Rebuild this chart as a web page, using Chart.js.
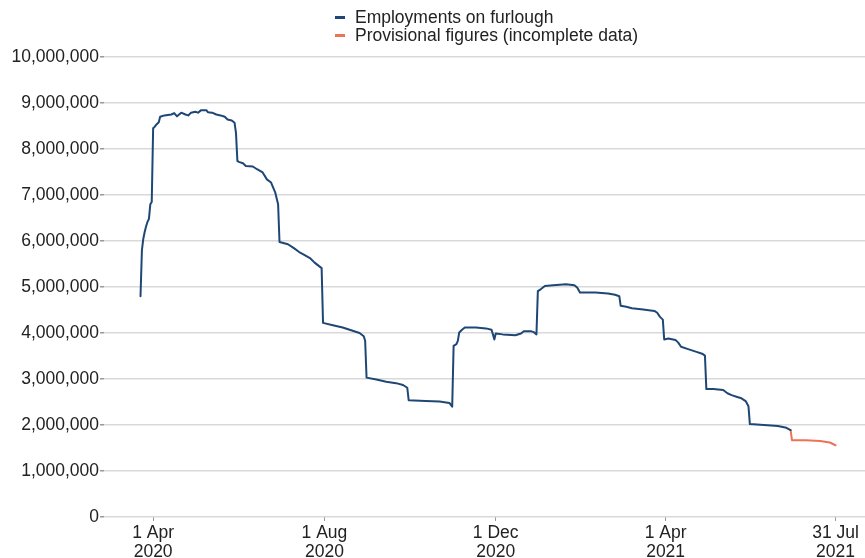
<!DOCTYPE html>
<html>
<head>
<meta charset="utf-8">
<script src="https://cdn.jsdelivr.net/npm/chart.js@4.4.1/dist/chart.umd.min.js"></script>
<style>
  html, body { margin: 0; padding: 0; background: #ffffff; }
  #wrap { position: relative; width: 865px; height: 558px; }
  #legend { position: absolute; left: 335px; top: 8px; font-family: "Liberation Sans", Arial, sans-serif; font-size: 17.5px; color: #222; line-height: 18px; }
  .item { display: flex; align-items: center; white-space: nowrap; }
  .swatch { width: 10px; height: 3px; margin-right: 10px; }
</style>
</head>
<body>
<div id="wrap">
  <canvas id="c" width="865" height="558"></canvas>
  <div id="legend"></div>
</div>
<script>
const seriesLabels = ["Employments on furlough", "Provisional figures (incomplete data)"];
const seriesColors = ["#1e4776", "#ec7356"];

const furloughDates = [
  "2020-03-23","2020-03-24","2020-03-25","2020-03-26","2020-03-27","2020-03-28","2020-03-29","2020-03-30","2020-03-31",
  "2020-04-01","2020-04-02","2020-04-03","2020-04-05","2020-04-06","2020-04-09","2020-04-14","2020-04-16","2020-04-18",
  "2020-04-21","2020-04-24","2020-04-26","2020-04-28","2020-05-01","2020-05-03","2020-05-05","2020-05-09","2020-05-10",
  "2020-05-13","2020-05-16","2020-05-19","2020-05-22","2020-05-24","2020-05-27","2020-05-29","2020-05-30","2020-05-31",
  "2020-06-01","2020-06-04","2020-06-06","2020-06-11","2020-06-14","2020-06-18","2020-06-21","2020-06-24","2020-06-27",
  "2020-06-29","2020-06-30","2020-07-06","2020-07-10","2020-07-14","2020-07-17","2020-07-22","2020-07-25","2020-07-30",
  "2020-07-31","2020-08-07","2020-08-14","2020-08-20","2020-08-26","2020-08-29","2020-08-30","2020-08-31","2020-09-07",
  "2020-09-14","2020-09-21","2020-09-26","2020-09-29","2020-09-30","2020-10-12","2020-10-22","2020-10-29","2020-10-31",
  "2020-11-01","2020-11-03","2020-11-04","2020-11-05","2020-11-07","2020-11-09","2020-11-17","2020-11-24","2020-11-28",
  "2020-11-29","2020-11-30","2020-12-01","2020-12-06","2020-12-15","2020-12-19","2020-12-21","2020-12-26","2020-12-28",
  "2020-12-30","2020-12-31","2021-01-02","2021-01-05","2021-01-11","2021-01-20","2021-01-26","2021-01-28","2021-01-30",
  "2021-02-10","2021-02-19","2021-02-24","2021-02-27","2021-02-28","2021-03-04","2021-03-08","2021-03-16","2021-03-24",
  "2021-03-26","2021-03-28","2021-03-30","2021-03-31","2021-04-03","2021-04-08","2021-04-10","2021-04-12","2021-04-17",
  "2021-04-23","2021-04-27","2021-04-29","2021-04-30","2021-05-05","2021-05-12","2021-05-15","2021-05-18","2021-05-22",
  "2021-05-25","2021-05-28","2021-05-30","2021-05-31","2021-06-10","2021-06-20","2021-06-26","2021-06-29"
];
const furloughValues = [
  4800000,5800000,6050000,6200000,6320000,6420000,6480000,6800000,6850000,
  8450000,8480000,8520000,8580000,8700000,8730000,8750000,8780000,8710000,
  8790000,8750000,8730000,8790000,8810000,8790000,8840000,8840000,8800000,
  8790000,8750000,8730000,8700000,8640000,8620000,8570000,8350000,7740000,
  7720000,7690000,7630000,7620000,7560000,7490000,7340000,7270000,7050000,
  6800000,5980000,5930000,5850000,5760000,5710000,5620000,5530000,5410000,
  4220000,4170000,4120000,4060000,4000000,3930000,3830000,3030000,2990000,
  2940000,2910000,2870000,2810000,2540000,2520000,2510000,2480000,2400000,
  3720000,3760000,3830000,4010000,4070000,4120000,4120000,4100000,4070000,
  3970000,3860000,3990000,3970000,3950000,3990000,4040000,4040000,4020000,
  3970000,4910000,4950000,5020000,5040000,5060000,5040000,4990000,4880000,
  4880000,4860000,4830000,4800000,4590000,4570000,4540000,4510000,4480000,
  4440000,4350000,4290000,3860000,3880000,3850000,3790000,3700000,3650000,
  3590000,3550000,3510000,2780000,2780000,2760000,2690000,2650000,2610000,
  2580000,2520000,2410000,2020000,2000000,1980000,1940000,1890000
];
const provisionalDates = ["2021-06-29","2021-06-30","2021-07-10","2021-07-20","2021-07-27","2021-07-31"];
const provisionalValues = [1890000,1670000,1670000,1650000,1620000,1560000];

const tickDates = ["2020-04-01","2020-08-01","2020-12-01","2021-04-01","2021-07-31"];
const tickLabels = [["1 Apr","2020"],["1 Aug","2020"],["1 Dec","2020"],["1 Apr","2021"],["31 Jul","2021"]];
const axisStart = "2020-02-26";
const axisEnd = "2021-08-21";

const dayNum = s => Date.parse(s + "T00:00:00Z") / 86400000;
const toPoints = (ds, vs) => ds.map((d, i) => ({ x: dayNum(d), y: vs[i] }));
const tickDays = tickDates.map(dayNum);

const FONT = { family: "'Liberation Sans', Arial, sans-serif", size: 17.5 };

// HTML legend from series labels
const leg = document.getElementById('legend');
seriesLabels.forEach((lab, i) => {
  const it = document.createElement('div'); it.className = 'item';
  const sw = document.createElement('span'); sw.className = 'swatch'; sw.style.background = seriesColors[i];
  const tx = document.createElement('span'); tx.textContent = lab;
  it.appendChild(sw); it.appendChild(tx); leg.appendChild(it);
});

new Chart(document.getElementById('c'), {
  type: 'line',
  data: {
    datasets: [
      { label: seriesLabels[0], data: toPoints(furloughDates, furloughValues), borderColor: seriesColors[0],
        borderWidth: 2, pointRadius: 0, tension: 0, borderJoinStyle: 'round', borderCapStyle: 'round' },
      { label: seriesLabels[1], data: toPoints(provisionalDates, provisionalValues), borderColor: seriesColors[1],
        borderWidth: 2, pointRadius: 0, tension: 0, borderJoinStyle: 'round', borderCapStyle: 'round' }
    ]
  },
  options: {
    responsive: false,
    devicePixelRatio: 1,
    animation: false,
    layout: { padding: { top: 57, right: 0, bottom: 0, left: 0 } },
    plugins: { legend: { display: false }, tooltip: { enabled: false } },
    scales: {
      x: {
        type: 'linear',
        min: dayNum(axisStart),
        max: dayNum(axisEnd),
        afterBuildTicks: s => { s.ticks = tickDays.map(v => ({ value: v })); },
        afterFit: s => { s.height = 41; },
        ticks: {
          autoSkip: false, maxRotation: 0, padding: 2, color: '#222',
          font: { ...FONT, lineHeight: 1.12 },
          callback: (v) => { const i = tickDays.indexOf(v); return i >= 0 ? tickLabels[i] : ''; }
        },
        grid: { drawOnChartArea: false, drawTicks: true, tickLength: 4, tickColor: '#999' },
        border: { display: false }
      },
      y: {
        min: 0, max: 10000000,
        afterFit: s => { s.width = 104; },
        ticks: {
          stepSize: 1000000, padding: 1, color: '#222', font: FONT,
          callback: v => v.toLocaleString('en-GB')
        },
        grid: { color: '#d9d9d9', lineWidth: 1.5, tickLength: 4, tickColor: '#999' },
        border: { display: false }
      }
    }
  }
});
</script>
</body>
</html>
